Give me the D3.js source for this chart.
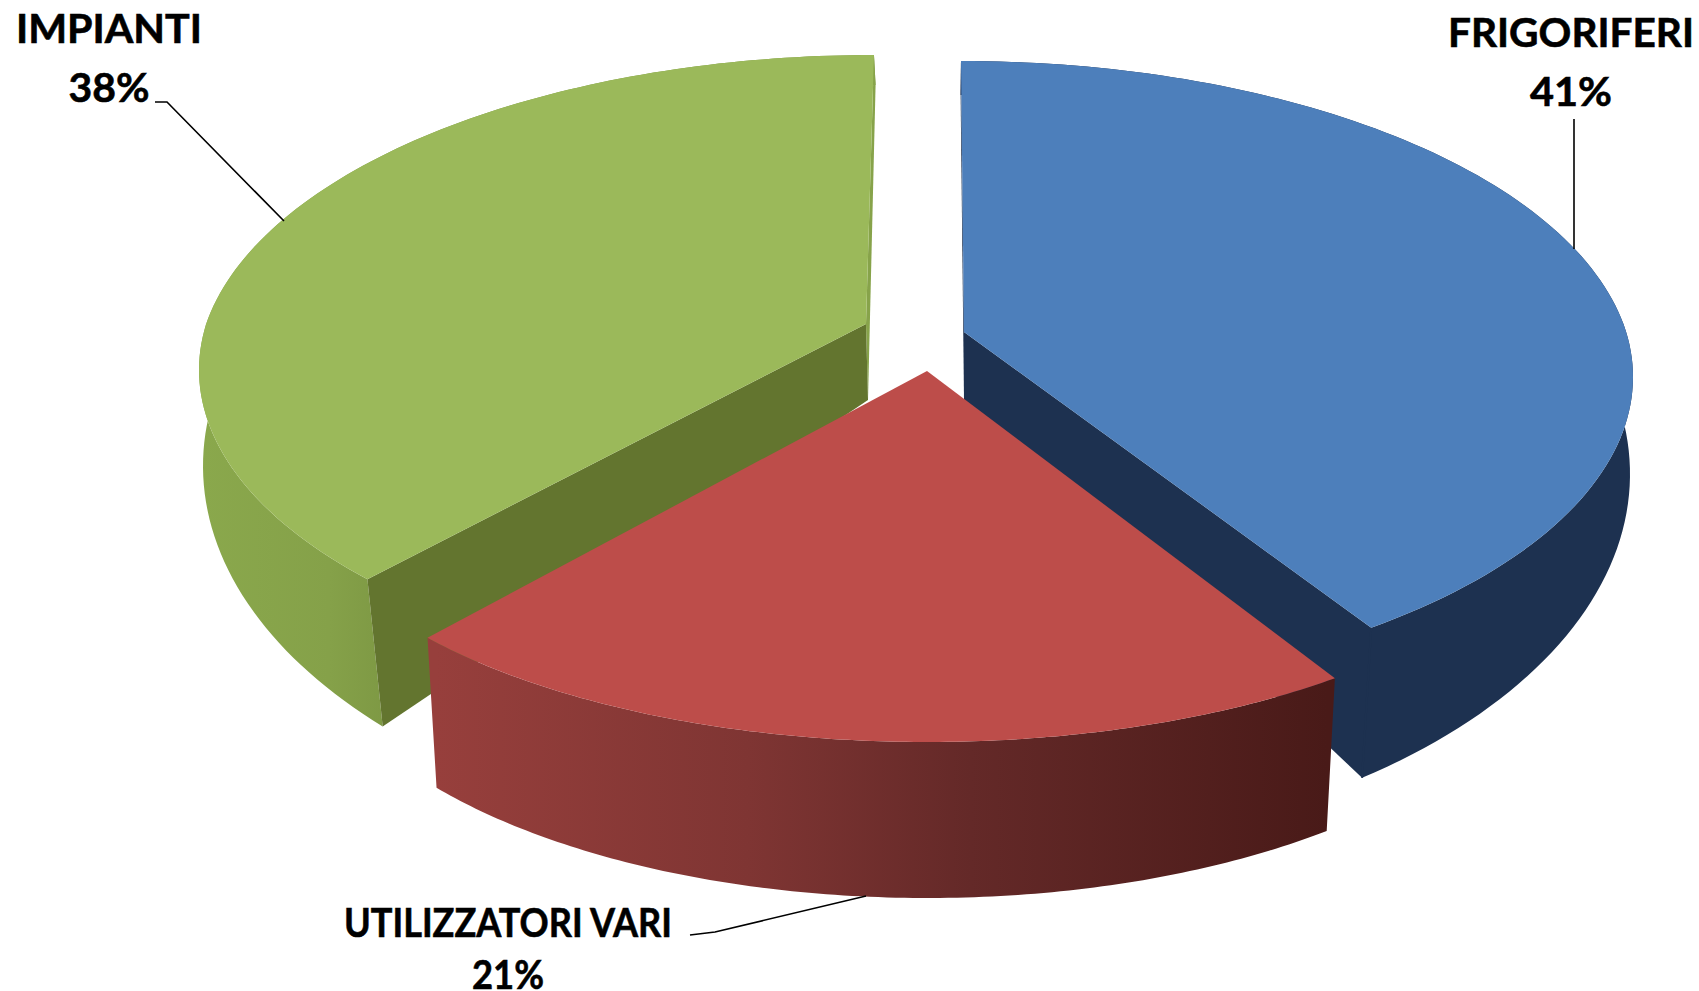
<!DOCTYPE html>
<html><head><meta charset="utf-8">
<script src="https://cdn.jsdelivr.net/npm/d3@7/dist/d3.min.js"></script>
<style>html,body{margin:0;padding:0;background:#fff}svg{display:block}text{font-family:Lato,"Open Sans",sans-serif;font-weight:700;fill:#000;stroke:#000;stroke-width:.6px}</style>
</head><body><svg id="c" width="1699" height="991"></svg>
<script>
// ---- data ----
const categories = ["FRIGORIFERI", "UTILIZZATORI VARI", "IMPIANTI"];
const values = [41, 21, 38];
const topColors = ["#4d7fbb", "#bd4d4a", "#9bb95a"];
const faceColors = ["#1d3150", null, "#63752f"];
// ---- 3D projection constants for each exploded slice ----
const topGeom = [
  {ax:964,ay:332,c:45,rx:669,ry:316,k:2.17,rot:0,back:-3},
  {ax:927,ay:371,c:93,rx:640,ry:278,k:2.04,rot:-0.0115,back:0},
  {ax:866,ay:324,c:46,rx:667,ry:315,k:2.08,rot:0,back:8}];
const botGeom = [
  {ax:964,ay:400,c:74,rx:666,ry:379,k:1.66,rot:0,back:-3},
  {ax:927,ay:578,c:30,rx:625,ry:290,k:2.49,rot:0,back:0},
  {ax:868,ay:400,c:66,rx:665,ry:381,k:1.583,rot:0,back:6.5}];
// ---- label placement ----
const labelLayout = [
  {cx:1571,y1:47,y2:106,w1:246,w2:82,leader:[[1574,119],[1574,249]]},
  {cx:508,y1:937,y2:989,w1:328,w2:72,leader:[[690,935],[715,932],[866,896]]},
  {cx:109,y1:43,y2:102,w1:186,w2:81,leader:[[155,102],[167,102],[284,221]]}];

const svg = d3.select("#c");
const line = d3.line();
const pie = d3.pie().sort(null).startAngle(0).endAngle(2*Math.PI);
const arcs = pie(values);

function rim(g,a0){
  const a=a0+g.rot;
  const dx=g.k*Math.sin(a), dy=-Math.cos(a);
  const A=(dx/g.rx)**2+(dy/g.ry)**2, B=-2*dy*g.c/(g.ry*g.ry), C=(g.c/g.ry)**2-1;
  const t=(-B+Math.sqrt(B*B-4*A*C))/(2*A);
  let x=g.ax+t*dx, y=g.ay+t*dy;
  if(y<g.ay) x+=g.back*(g.ay-y)/270;
  return [x,y];
}
function sweep(g,a0,a1){
  const n=120;
  return d3.range(n+1).map(i=>rim(g,a0+(a1-a0)*i/n));
}

const defs=svg.append("defs");
function grad(id,x1,x2,stops){
  const lg=defs.append("linearGradient").attr("id",id).attr("gradientUnits","userSpaceOnUse")
    .attr("x1",x1).attr("x2",x2).attr("y1",0).attr("y2",0);
  stops.forEach(s=>lg.append("stop").attr("offset",s[0]).attr("stop-color",s[1]));
}
grad("wall1",rim(botGeom[1],arcs[1].endAngle)[0],rim(botGeom[1],arcs[1].startAngle)[0],
  [[0,"#973f3c"],[0.35,"#7f3533"],[0.6,"#642928"],[1,"#491a18"]]);
grad("wall2",200,385,[[0,"#8aa84c"],[0.7,"#85a149"],[1,"#7e9944"]]);
const wallFill = ["#1d3150", "url(#wall1)", "url(#wall2)"];

// draw order: back slices first, the front slice last
[2,0,1].forEach(i=>{
  const d=arcs[i], T=topGeom[i], B=botGeom[i];
  const g=svg.append("g").attr("class","slice").datum(d);
  const wall=sweep(T,d.startAngle,d.endAngle).concat(sweep(B,d.startAngle,d.endAngle).reverse());
  g.append("path").attr("d",line(wall)+"Z").attr("fill",wallFill[i]);
  if(faceColors[i]){
    // the two radial cut faces
    const backA = i===0 ? d.startAngle : d.endAngle;
    const frontA = i===0 ? d.endAngle : d.startAngle;
    g.append("path").attr("d",line([[T.ax,T.ay],rim(T,backA),rim(B,backA),[B.ax,B.ay]])+"Z")
      .attr("fill", i===2 ? "#87a34a" : faceColors[i]);
    g.append("path").attr("d",line([[T.ax,T.ay],rim(T,frontA),rim(B,frontA),[B.ax,B.ay]])+"Z")
      .attr("fill",faceColors[i]);
    if(i===0) // hide the hairline between the same-coloured face and wall
      g.append("path").attr("d",line([rim(T,frontA),rim(B,frontA)])).attr("stroke",faceColors[0]).attr("stroke-width",2).attr("fill","none");
  }
  const top=[[T.ax,T.ay]].concat(sweep(T,d.startAngle,d.endAngle));
  g.append("path").attr("d",line(top)+"Z").attr("fill",topColors[i]);
});

// leaders and labels
categories.forEach((name,i)=>{
  const L=labelLayout[i];
  svg.append("path").attr("d",line(L.leader)).attr("fill","none").attr("stroke","#000").attr("stroke-width",1.6);
  svg.append("text").attr("x",L.cx).attr("y",L.y1).attr("text-anchor","middle").attr("font-size",40)
    .attr("textLength",L.w1).attr("lengthAdjust","spacingAndGlyphs").text(name);
  svg.append("text").attr("x",L.cx).attr("y",L.y2).attr("text-anchor","middle").attr("font-size",40)
    .attr("textLength",L.w2).attr("lengthAdjust","spacingAndGlyphs").text(values[i]+"%");
});
</script></body></html>
